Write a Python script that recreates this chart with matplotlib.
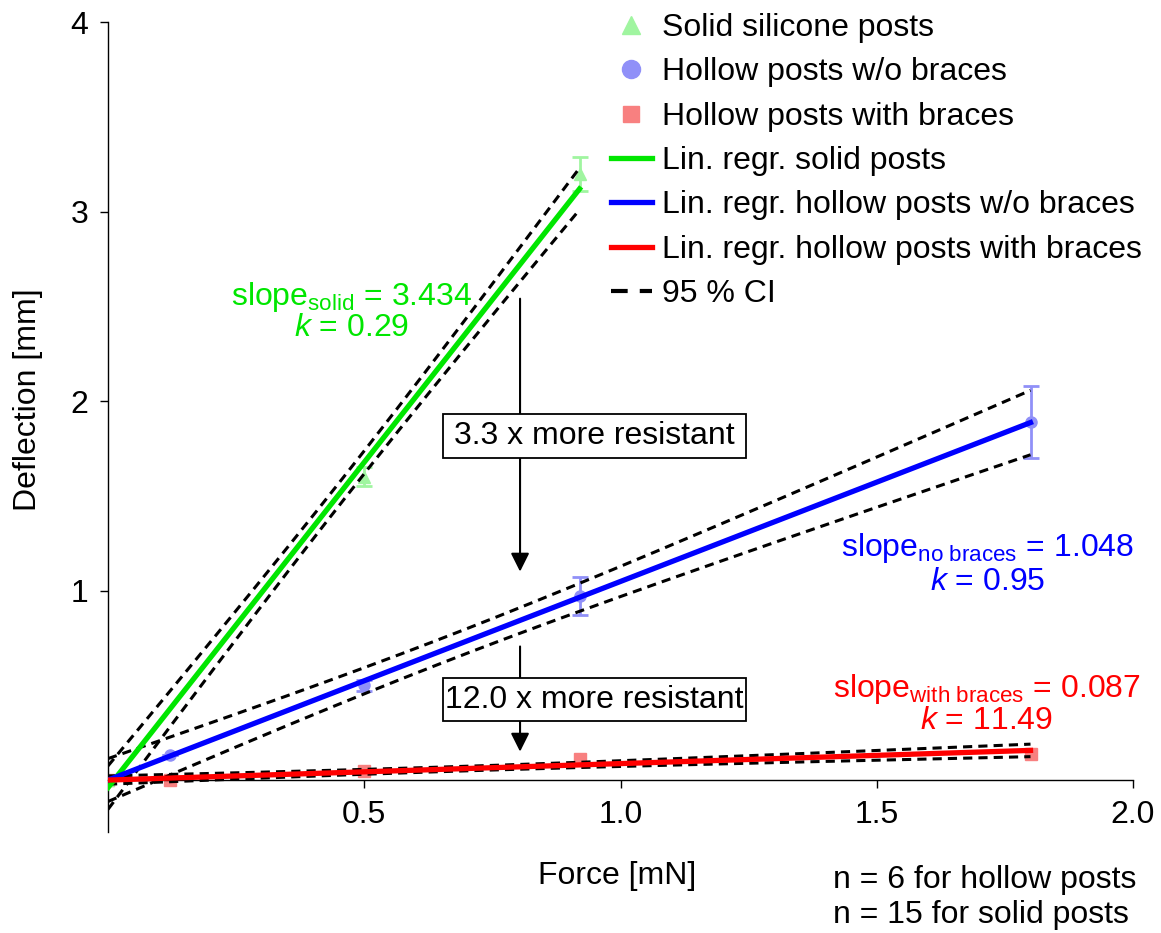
import matplotlib
matplotlib.use('Agg')
import matplotlib.pyplot as plt
from matplotlib.patches import Rectangle
from matplotlib.lines import Line2D
import numpy as np

plt.rcParams['font.family'] = ['Liberation Sans', 'DejaVu Sans']
plt.rcParams['mathtext.fontset'] = 'custom'
plt.rcParams['mathtext.rm'] = 'Liberation Sans'
plt.rcParams['mathtext.it'] = 'Liberation Sans:italic'
plt.rcParams['mathtext.default'] = 'rm'

# ---- data ----
solid_force = [0.0, 0.5, 0.92]
solid_defl = [0.0, 1.60, 3.20]
solid_err = [0.0, 0.05, 0.09]

nobr_force = [0.0, 0.12, 0.5, 0.92, 1.80]
nobr_defl = [0.0, 0.13, 0.50, 0.97, 1.89]
nobr_err = [0.0, 0.0, 0.03, 0.10, 0.19]

br_force = [0.0, 0.12, 0.5, 0.92, 1.80]
br_defl = [0.0, 0.0, 0.05, 0.11, 0.14]

slope_solid, icpt_solid = 3.434, -0.04
slope_nobr, icpt_nobr = 1.048, 0.0
slope_br, icpt_br = 0.087, 0.0

# CI half-widths: at the centre of the data and at the max force
ci_solid = (0.06, 0.11)
ci_nobr = (0.065, 0.17)
ci_br = (0.012, 0.033)

x_ticks = [0.5, 1.0, 1.5, 2.0]
x_ticklabels = ['0.5', '1.0', '1.5', '2.0']
y_ticks = [1, 2, 3, 4]

c_solid_pt, c_nobr_pt, c_br_pt = '#a0f5a0', '#9090f8', '#f88080'
c_solid, c_nobr, c_br = '#00e600', '#0000ff', '#ff0000'

fig = plt.figure(figsize=(11.61, 9.33), dpi=100)
ax = fig.add_axes([108/1161, 1-832/933, (1133-108)/1161, (832-22)/933])
ax.set_xlim(0, 2.0)
ax.set_ylim(-0.274, 4.0)

FS = 23

# data points
ax.errorbar(solid_force, solid_defl, yerr=solid_err, fmt='^', color=c_solid_pt,
            ms=8, capsize=6, elinewidth=2, capthick=2, zorder=2)
ax.errorbar(nobr_force, nobr_defl, yerr=nobr_err, fmt='o', color=c_nobr_pt,
            ms=8, capsize=6, elinewidth=2, capthick=2, zorder=2)
ax.plot(br_force, br_defl, 's', color=c_br_pt, ms=9, zorder=2)

def ci_curves(force, slope, icpt, ci):
    x = np.linspace(0, max(force), 200)
    xm = np.mean(force)
    hmin, hend = ci
    a = (hend**2 - hmin**2) / (max(force) - xm)**2
    hw = np.sqrt(hmin**2 + a * (x - xm)**2)
    y = slope * x + icpt
    return x, y, y + hw, y - hw

dash = (0, (3, 2))
for force, s, b, ci, col in [(solid_force, slope_solid, icpt_solid, ci_solid, c_solid),
                             (nobr_force, slope_nobr, icpt_nobr, ci_nobr, c_nobr),
                             (br_force, slope_br, icpt_br, ci_br, c_br)]:
    x, y, up, lo = ci_curves(force, s, b, ci)
    ax.plot(x, up, color='black', lw=2.2, ls=dash, zorder=3)
    ax.plot(x, lo, color='black', lw=2.2, ls=dash, zorder=3)
    ax.plot(x, y, color=col, lw=3.8, zorder=4)

# annotations
ax.text(0.476, 2.547, r'slope$_{\mathrm{solid}}$ = 3.434', color=c_solid, fontsize=FS,
        ha='center', va='center')
ax.text(0.476, 2.384, r'$\mathit{k}$ = 0.29', color=c_solid, fontsize=FS, ha='center', va='center')
ax.text(1.717, 1.226, r'slope$_{\mathrm{no\ braces}}$ = 1.048', color=c_nobr, fontsize=FS,
        ha='center', va='center')
ax.text(1.717, 1.047, r'$\mathit{k}$ = 0.95', color=c_nobr, fontsize=FS, ha='center', va='center')
ax.text(1.715, 0.479, r'slope$_{\mathrm{with\ braces}}$ = 0.087', color=c_br, fontsize=FS,
        ha='center', va='center')
ax.text(1.715, 0.311, r'$\mathit{k}$ = 11.49', color=c_br, fontsize=FS, ha='center', va='center')

arrow = dict(arrowstyle='-|>', color='black', lw=1.5, mutation_scale=28, shrinkA=0, shrinkB=0)
ax.annotate('', xy=(0.804, 1.10), xytext=(0.804, 2.54), arrowprops=arrow, zorder=5)
ax.annotate('', xy=(0.804, 0.15), xytext=(0.804, 0.705), arrowprops=arrow, zorder=5)

box_x0, box_x1 = 0.654, 1.245
for (y0, y1, txt) in [(1.700, 1.932, '3.3 x more resistant'),
                      (0.311, 0.537, '12.0 x more resistant')]:
    ax.add_patch(Rectangle((box_x0, y0), box_x1 - box_x0, y1 - y0, fc='white', ec='black',
                           lw=1.3, zorder=6))
    ax.text((box_x0 + box_x1) / 2, (y0 + y1) / 2, txt, fontsize=FS, ha='center',
            va='center', zorder=7)

# axes styling
for s in ['top', 'right']:
    ax.spines[s].set_visible(False)
ax.spines['bottom'].set_position(('data', 0))
ax.spines['left'].set_linewidth(1.0)
ax.spines['bottom'].set_linewidth(1.0)
ax.set_xticks(x_ticks)
ax.set_xticklabels(x_ticklabels)
ax.set_yticks(y_ticks)
ax.tick_params(axis='both', direction='out', length=6, width=1, labelsize=FS, pad=8)

fig.text(617/1161, 1-876/933, 'Force [mN]', fontsize=FS, ha='center', va='center')
fig.text(28/1161, 1-400/933, 'Deflection [mm]', fontsize=FS, ha='center', va='center',
         rotation=90)
fig.text(833/1161, 1-880/933, 'n = 6 for hollow posts', fontsize=FS, ha='left', va='center')
fig.text(833/1161, 1-915/933, 'n = 15 for solid posts', fontsize=FS, ha='left', va='center')

# legend
handles = [
    Line2D([], [], marker='^', color=c_solid_pt, ls='none', ms=13),
    Line2D([], [], marker='o', color=c_nobr_pt, ls='none', ms=13),
    Line2D([], [], marker='s', color=c_br_pt, ls='none', ms=12),
    Line2D([], [], color=c_solid, lw=3.8),
    Line2D([], [], color=c_nobr, lw=3.8),
    Line2D([], [], color=c_br, lw=3.8),
    Line2D([], [], color='black', lw=3.0, ls=(0, (4, 2.9))),
]
labels = ['Solid silicone posts', 'Hollow posts w/o braces', 'Hollow posts with braces',
          'Lin. regr. solid posts', 'Lin. regr. hollow posts w/o braces',
          'Lin. regr. hollow posts with braces', '95 % CI']
fig.legend(handles, labels, loc='upper left', bbox_to_anchor=(611/1161, 1-13/933),
           frameon=False, fontsize=FS, handlelength=1.28, handletextpad=0.31,
           labelspacing=0.45, borderaxespad=0, borderpad=0)

fig.savefig('out.png', dpi=100)
